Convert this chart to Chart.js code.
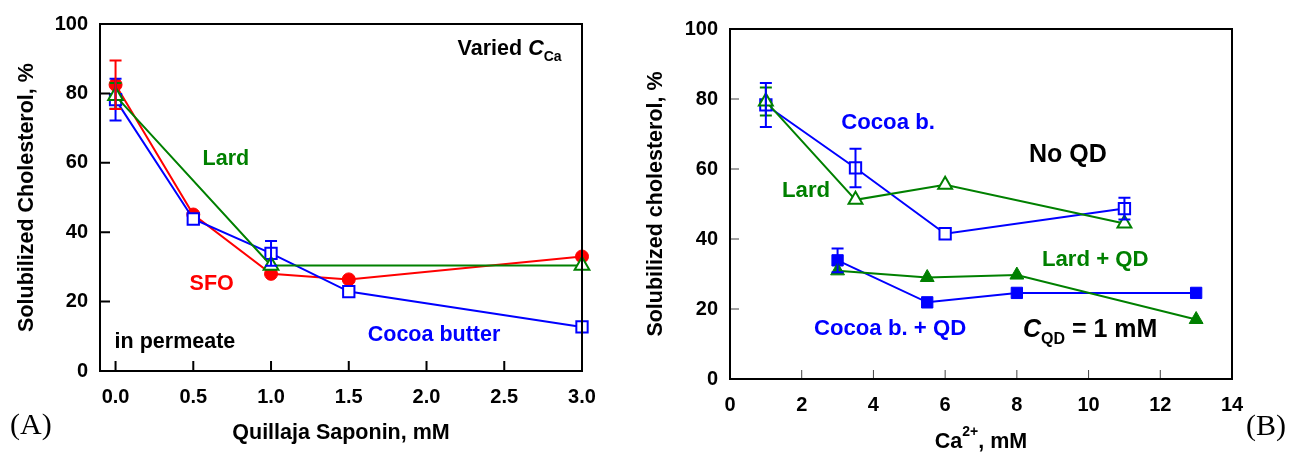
<!DOCTYPE html>
<html>
<head>
<meta charset="utf-8">
<script src="https://cdn.jsdelivr.net/npm/chart.js@4"></script>
<style>
  body { margin: 0; background: #fff; }
  #a { position: absolute; left: 0; top: 0; }
  #b { position: absolute; left: 640px; top: 0; }
</style>
</head>
<body>
<canvas id="a" width="620" height="455"></canvas>
<canvas id="b" width="650" height="455"></canvas>
<script>
// ---- panel A: varied Ca, x = saponin (mM)
const xA = [0, 0.5, 1, 1.5, 3];
const sfoA = [82.5, 45.1, 28.0, 26.4, 33.0];
const sfoErrA = [7, 0, 0, 0, 0];
const cocoaA = [78.2, 43.8, 33.9, 22.9, 12.7];
const cocoaErrA = [6, 0, 3.6, 0, 0];
const lardXA = [0, 1, 3];
const lardA = [79.3, 30.4, 30.4];
const lardErrA = [3.7, 0, 0];
const xTicksA = [0, 0.5, 1, 1.5, 2, 2.5, 3];

// ---- panel B: x = Ca2+ (mM)
const xNoQdB = [1, 3.5, 6, 11];
const cocoaB = [78.3, 60.3, 41.5, 48.7];
const cocoaErrB = [6.3, 5.5, 0, 3.1];
const lardB = [79.3, 51.2, 55.5, 44.4];
const lardErrB = [4, 0, 0, 0];
const xQdB = [3, 5.5, 8, 13];
const cocoaQdB = [33.9, 21.9, 24.6, 24.6];
const cocoaQdErrB = [3.4, 0, 0, 0];
const lardQdB = [30.9, 29.0, 29.7, 17.0];
const xTicksB = [0, 2, 4, 6, 8, 10, 12, 14];

const yTicks = [0, 20, 40, 60, 80, 100];

const BLUE = '#0000ff', RED = '#ff0000', GREEN = '#008000';
const FAM = '"Liberation Sans", Arial, sans-serif';
const F = 'bold 21.5px ' + FAM;
const FI = 'italic bold 21.5px ' + FAM;
const FS = 'bold 14px ' + FAM;
const FB = 'bold 22.2px ' + FAM;
const FL = 'bold 25px ' + FAM;
const FLI = 'italic bold 25px ' + FAM;
const FLS = 'bold 16px ' + FAM;

const pts = (xs, ys) => xs.map((v, i) => ({ x: v, y: ys[i] }));

function drawParts(ctx, parts, x, y, align) {
  let w = 0;
  parts.forEach(p => { ctx.font = p.font || F; w += ctx.measureText(p.t).width; });
  let cx = align === 'center' ? x - w / 2 : x;
  parts.forEach(p => {
    ctx.font = p.font || F;
    ctx.fillText(p.t, cx, y + (p.dy || 0));
    cx += ctx.measureText(p.t).width;
  });
}

const extras = {
  id: 'extras',
  afterDatasetsDraw(chart) {
    const { ctx, scales: { x, y } } = chart;
    chart.data.datasets.forEach(ds => {
      if (!ds.errors) return;
      ctx.save();
      ctx.strokeStyle = ds.borderColor;
      ctx.lineWidth = 2;
      ds.data.forEach((p, j) => {
        const e = ds.errors[j];
        if (!e) return;
        const px = x.getPixelForValue(p.x);
        const top = y.getPixelForValue(p.y + e);
        const bot = y.getPixelForValue(p.y - e);
        ctx.beginPath();
        ctx.moveTo(px, top); ctx.lineTo(px, bot);
        ctx.moveTo(px - 6, top); ctx.lineTo(px + 6, top);
        ctx.moveTo(px - 6, bot); ctx.lineTo(px + 6, bot);
        ctx.stroke();
      });
      ctx.restore();
    });
  },
  afterDraw(chart, args, o) {
    const { ctx, chartArea: a, scales: { x, y } } = chart;
    ctx.save();
    // inward ticks
    ctx.strokeStyle = o.tickColor;
    ctx.lineWidth = o.tickWidth;
    ctx.beginPath();
    x.ticks.forEach(t => {
      const px = x.getPixelForValue(t.value);
      ctx.moveTo(px, a.bottom); ctx.lineTo(px, a.bottom - o.tickLen);
    });
    y.ticks.forEach(t => {
      const py = y.getPixelForValue(t.value);
      ctx.moveTo(a.left, py); ctx.lineTo(a.left + o.tickLen, py);
    });
    ctx.stroke();
    // frame
    ctx.strokeStyle = '#000';
    ctx.lineWidth = 2;
    ctx.strokeRect(a.left, a.top, a.right - a.left, a.bottom - a.top);
    // notes
    ctx.textBaseline = 'middle';
    ctx.textAlign = 'left';
    (o.notes || []).forEach(n => {
      ctx.fillStyle = n.color;
      drawParts(ctx, n.parts, x.getPixelForValue(n.x), y.getPixelForValue(n.y));
    });
    if (o.xTitle) {
      ctx.fillStyle = '#000';
      drawParts(ctx, o.xTitle, (a.left + a.right) / 2, o.xTitleY, 'center');
    }
    ctx.fillStyle = '#000';
    ctx.font = '30px "Liberation Serif", "Times New Roman", serif';
    ctx.fillText(o.tag, o.tagX, o.tagY);
    ctx.restore();
  }
};

function openSet(label, data, errs, color, style, r) {
  return {
    label, data, errors: errs, showLine: true, clip: false,
    borderColor: color, borderWidth: 2,
    pointStyle: style, pointRadius: r, pointBorderWidth: 2,
    pointBackgroundColor: '#fff', pointBorderColor: color
  };
}
function filledSet(label, data, errs, color, style, r) {
  return {
    label, data, errors: errs, showLine: true, clip: false,
    borderColor: color, borderWidth: 2,
    pointStyle: style, pointRadius: r, pointBorderWidth: 1,
    pointBackgroundColor: color, pointBorderColor: color
  };
}

function axes(xmin, xmax, xTicks, xFmt, yW, xH, yTitle, yTitlePad, xTitle) {
  const tickFont = { family: FAM, size: 20, weight: 'bold' };
  const titleFont = { family: FAM, size: 21.5, weight: 'bold' };
  return {
    x: {
      type: 'linear', min: xmin, max: xmax,
      grid: { display: false, drawTicks: false },
      border: { display: false },
      afterBuildTicks: s => { s.ticks = xTicks.map(v => ({ value: v })); },
      afterFit: s => { s.height = xH; },
      ticks: { color: '#000', font: tickFont, padding: 14, maxRotation: 0, callback: xFmt },
      title: xTitle ? { display: true, text: xTitle, color: '#000', font: titleFont, padding: { top: 0, bottom: 9 } } : { display: false }
    },
    y: {
      min: 0, max: 100,
      grid: { display: false, drawTicks: false },
      border: { display: false },
      afterBuildTicks: s => { s.ticks = yTicks.map(v => ({ value: v })); },
      afterFit: s => { s.width = yW; },
      ticks: { color: '#000', font: tickFont, padding: 12 },
      title: { display: true, text: yTitle, color: '#000', font: titleFont, padding: { top: yTitlePad, bottom: 0 } }
    }
  };
}

new Chart(document.getElementById('a'), {
  type: 'scatter',
  data: {
    datasets: [
      openSet('Lard', pts(lardXA, lardA), lardErrA, GREEN, 'triangle', 8.5),
      openSet('Cocoa butter', pts(xA, cocoaA), cocoaErrA, BLUE, 'rect', 8),
      filledSet('SFO', pts(xA, sfoA), sfoErrA, RED, 'circle', 6.5)
    ]
  },
  options: {
    responsive: false, animation: false,
    layout: { padding: { left: 0, top: 24, right: 38, bottom: 0 } },
    plugins: {
      legend: { display: false }, tooltip: { enabled: false },
      extras: {
        tickColor: '#000', tickWidth: 2, tickLen: 10,
        tag: '(A)', tagX: 10, tagY: 426,
        notes: [
          { parts: [{ t: 'Varied ' }, { t: 'C', font: FI }, { t: 'Ca', font: FS, dy: 8 }], x: 2.2, y: 92.8, color: '#000' },
          { parts: [{ t: 'Lard' }], x: 0.56, y: 61.1, color: GREEN },
          { parts: [{ t: 'SFO' }], x: 0.476, y: 25.1, color: RED },
          { parts: [{ t: 'Cocoa butter' }], x: 1.622, y: 10.4, color: BLUE },
          { parts: [{ t: 'in permeate' }], x: -0.006, y: 8.4, color: '#000' }
        ]
      }
    },
    scales: axes(-0.1, 3, xTicksA, v => v.toFixed(1), 100, 84, 'Solubilized Cholesterol, %', 14.6, 'Quillaja Saponin, mM')
  },
  plugins: [extras]
});

new Chart(document.getElementById('b'), {
  type: 'scatter',
  data: {
    datasets: [
      openSet('Lard', pts(xNoQdB, lardB), lardErrB, GREEN, 'triangle', 8),
      openSet('Cocoa b.', pts(xNoQdB, cocoaB), cocoaErrB, BLUE, 'rect', 8),
      filledSet('Lard + QD', pts(xQdB, lardQdB), null, GREEN, 'triangle', 8),
      filledSet('Cocoa b. + QD', pts(xQdB, cocoaQdB), cocoaQdErrB, BLUE, 'rect', 8)
    ]
  },
  options: {
    responsive: false, animation: false,
    layout: { padding: { left: 0, top: 29, right: 58, bottom: 0 } },
    plugins: {
      legend: { display: false }, tooltip: { enabled: false },
      extras: {
        tickColor: '#444', tickWidth: 1, tickLen: 9,
        tag: '(B)', tagX: 606, tagY: 427,
        xTitle: [{ t: 'Ca' }, { t: '2+', font: FS, dy: -10 }, { t: ', mM' }], xTitleY: 442,
        notes: [
          { parts: [{ t: 'Cocoa b.', font: FB }], x: 3.1, y: 73.1, color: BLUE },
          { parts: [{ t: 'No QD', font: FL }], x: 8.34, y: 64.0, color: '#000' },
          { parts: [{ t: 'Lard', font: FB }], x: 1.45, y: 53.7, color: GREEN },
          { parts: [{ t: 'Lard + QD', font: FB }], x: 8.7, y: 34.0, color: GREEN },
          { parts: [{ t: 'Cocoa b. + QD', font: FB }], x: 2.34, y: 14.3, color: BLUE },
          { parts: [{ t: 'C', font: FLI }, { t: 'QD', font: FLS, dy: 10 }, { t: ' = 1 mM', font: FL }], x: 8.17, y: 14.0, color: '#000' }
        ]
      }
    },
    scales: axes(0, 14, xTicksB, v => String(v), 90, 76, 'Solubilized cholesterol, %', 3, null)
  },
  plugins: [extras]
});
</script>
</body>
</html>
